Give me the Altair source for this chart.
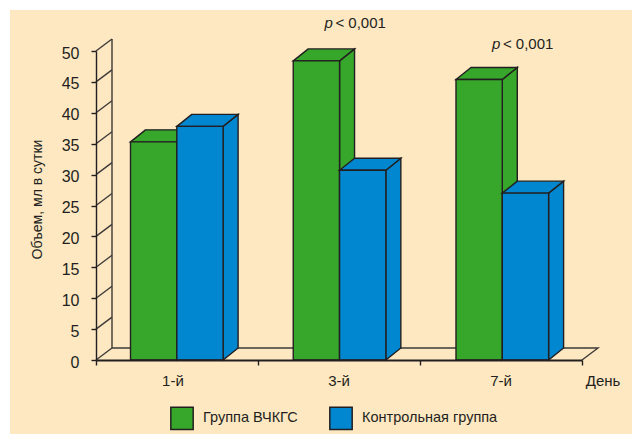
import altair as alt
import pandas as pd

# Chart values
days = ["1-й", "3-й", "7-й"]
vchkgs = [35.3, 48.4, 45.4]
control = [37.8, 30.7, 27.0]
series_names = ["Группа ВЧКГС", "Контрольная группа"]
series_colors = ["#36A72A", "#0087D0"]
p_notes = ["< 0,001", "< 0,001"]
p_positions = [1.41, 2.444]
p_heights = [53.7, 50.3]
y_ticks = list(range(0, 55, 5))
x_ticks = [0, 1, 2, 3]

FONT = "Liberation Sans"
INK = "#231F20"
BEIGE = "#FDE8C2"
WALL = "#3D3A38"

# Oblique depth of the pseudo-3D drawing, in axis units
DEPTH_X = 15 / 162
DEPTH_Y = 12 / 6.18
WALL_X = 16 / 162
BAR_START = 0.213
BAR_WIDTH = 0.2858
BAR_PITCH = 1.0046

x_scale = alt.Scale(domain=[0, 3], nice=False, zero=False)
y_scale = alt.Scale(domain=[0, 50], nice=False)

x_axis = alt.Axis(
    values=x_ticks, labels=False, title=None, grid=False, zindex=1,
    domainColor=INK, tickColor=INK, domainWidth=1.8, tickWidth=1.4, tickSize=5,
)
y_axis = alt.Axis(
    values=y_ticks, grid=False, zindex=1, title="Объем, мл в сутки",
    domainColor=INK, tickColor=INK, domainWidth=1.4, tickWidth=1.4, tickSize=5,
    labelFont=FONT, labelFontSize=16, labelColor=INK, labelPadding=12, labelOffset=2,
    titleFont=FONT, titleFontSize=14, titleFontWeight="normal", titleColor=INK,
    titleX=-52, titleY=148,
)
X = alt.X("x:Q", scale=x_scale, axis=x_axis)
Y = alt.Y("y:Q", scale=y_scale, axis=y_axis)

rows_front, rows_side, rows_top = [], [], []
for s, values in enumerate([vchkgs, control]):
    for g, v in enumerate(values):
        x0 = g * BAR_PITCH + BAR_START + s * BAR_WIDTH
        x1 = x0 + BAR_WIDTH
        name = series_names[s]
        rows_front.append(dict(series=name, x=x0, x2=x1, y=v, y2=0))
        rows_side += [
            dict(series=name, g=g, x=x1, y=v, y2=0),
            dict(series=name, g=g, x=x1 + DEPTH_X, y=v + DEPTH_Y, y2=DEPTH_Y),
        ]
        rows_top += [
            dict(series=name, g=g, x=x0, x2=x1, y=v),
            dict(series=name, g=g, x=x0 + DEPTH_X, x2=x1 + DEPTH_X, y=v + DEPTH_Y),
        ]
front, side, top = map(pd.DataFrame, (rows_front, rows_side, rows_top))

color = alt.Color(
    "series:N",
    scale=alt.Scale(domain=series_names, range=series_colors),
    legend=alt.Legend(
        title=None,
        orient="none",
        legendX=74,
        legendY=355,
        direction="horizontal",
        symbolType="square",
        symbolSize=500,
        symbolStrokeColor=INK,
        symbolStrokeWidth=1.5,
        symbolOpacity=1,
        labelFont=FONT,
        labelFontSize=14.5,
        labelColor=INK,
        labelOffset=9,
        columnPadding=28,
    ),
)


def series_layers(name):
    stroke = dict(stroke=INK, strokeWidth=1.4)
    s_side = side[side.series == name]
    s_top = top[top.series == name]
    s_front = front[front.series == name]
    return [
        alt.Chart(s_side).mark_area(**stroke).encode(
            x=X, y=Y, y2="y2:Q", color=color, detail="g:N"
        ),
        alt.Chart(s_top).mark_area(orient="horizontal", **stroke).encode(
            x=X, x2="x2:Q", y=Y, color=color, detail="g:N"
        ),
        alt.Chart(s_front).mark_rect(**stroke).encode(
            x=X, x2="x2:Q", y=Y, y2="y2:Q", color=color
        ),
    ]


# Panel behind everything
panel = alt.Chart(pd.DataFrame({"a": [0]})).mark_rect(color=BEIGE).encode(
    x=alt.value(-86), x2=alt.value(536), y=alt.value(-41), y2=alt.value(383)
)

# Slanted side wall and floor outline
wall_rows = []
for t in y_ticks:
    wall_rows += [
        dict(k=f"t{t}", o=0, x=0, y=t),
        dict(k=f"t{t}", o=1, x=WALL_X, y=t + DEPTH_Y),
    ]
wall_rows += [dict(k="back", o=0, x=WALL_X, y=DEPTH_Y), dict(k="back", o=1, x=WALL_X, y=50 + DEPTH_Y)]
wall_rows += [
    dict(k="floor", o=0, x=WALL_X, y=DEPTH_Y),
    dict(k="floor", o=1, x=3 + WALL_X, y=DEPTH_Y),
    dict(k="floor", o=2, x=3, y=0),
]
wall = alt.Chart(pd.DataFrame(wall_rows)).mark_line(color=WALL, strokeWidth=1.4).encode(
    x=X, y=Y, detail="k:N", order="o:Q"
)

# Category names under the axis
day_positions = [0.475, 1.5, 2.5, 3.13]
day_labels = alt.Chart(
    pd.DataFrame({"x": day_positions, "label": days + ["День"]})
).mark_text(font=FONT, fontSize=15, color=INK, baseline="alphabetic").encode(
    x=X, y=alt.value(335), text="label:N"
)

# Significance notes above the second and third groups
notes = pd.DataFrame({
    "x": p_positions,
    "y": p_heights,
    "text": p_notes,
    "p": ["p", "p"],
})
note_text = alt.Chart(notes).mark_text(
    font=FONT, fontSize=15, color=INK, align="left", baseline="alphabetic", dx=11
).encode(x=X, y=Y, text="text:N")
note_p = alt.Chart(notes).mark_text(
    font=FONT, fontSize=15, fontStyle="italic", color=INK, align="left", baseline="alphabetic"
).encode(x=X, y=Y, text="p:N")

layers = [panel, wall]
layers += series_layers(series_names[0])
layers += series_layers(series_names[1])
layers += [day_labels, note_p, note_text]

chart = alt.layer(*layers).resolve_scale(color="shared").properties(
    width=486,
    height=309,
    padding={"left": 96, "top": 51, "right": 50, "bottom": 74},
    autosize=alt.AutoSizeParams(type="none"),
    background="white",
).configure_view(stroke=None)

chart.save("out.html", embed_options={"renderer": "svg", "actions": False})
